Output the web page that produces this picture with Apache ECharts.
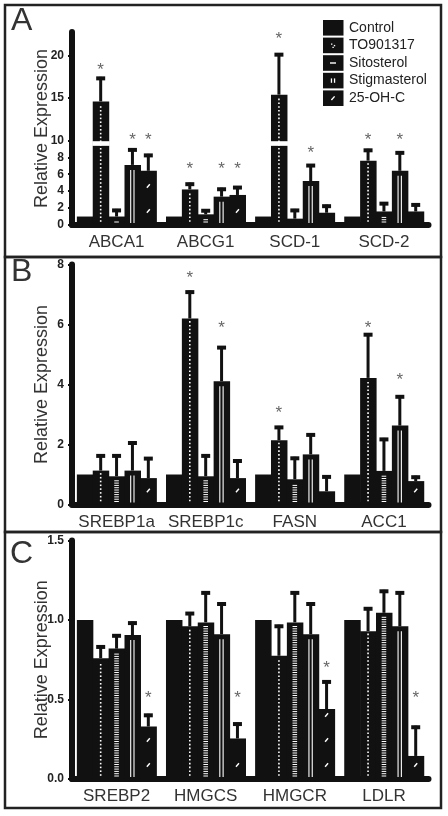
<!DOCTYPE html>
<html>
<head>
<meta charset="utf-8">
<script src="https://cdn.jsdelivr.net/npm/echarts@6/dist/echarts.min.js"></script>
<style>
html,body{margin:0;padding:0;background:#fff;}
#c{width:448px;height:816px;}
</style>
</head>
<body>
<div id="c"></div>
<script>
// ---------- DATA ----------
const treatments = ['Control', 'TO901317', 'Sitosterol', 'Stigmasterol', '25-OH-C'];

// Panel A
const genesA = ['ABCA1', 'ABCG1', 'SCD-1', 'SCD-2'];
const aControl = [1, 1, 1, 1];
const aTO      = [14.6, 4.2, 15.4, 7.6];
const aSito    = [1.0, 1.26, 0.75, 1.6];
const aStig    = [7.1, 3.35, 5.2, 6.4];
const aOHC     = [6.4, 3.55, 1.45, 1.6];
const aTOerr   = [2.9, 0.8, 4.9, 1.4];
const aSitoErr = [0.9, 0.6, 1.15, 1.1];
const aStigErr = [1.95, 1.05, 2.0, 2.3];
const aOHCerr  = [2.0, 1.05, 0.95, 0.95];
const aTOsig   = [18.7, 7.1, 22.4, 10.5];
const aStigSig = [10.5, 7.1, 9.0, 10.5];
const aOHCsig  = [10.5, 7.1, null, null];
const ticksA = [0, 2, 4, 6, 8, 10, 15, 20];
const breakA = [9.35, 9.9];

// Panel B
const genesB = ['SREBP1a', 'SREBP1c', 'FASN', 'ACC1'];
const bControl = [1, 1, 1, 1];
const bTO      = [1.13, 6.2, 2.14, 4.22];
const bSito    = [0.94, 0.94, 0.84, 1.12];
const bStig    = [1.13, 4.11, 1.67, 2.63];
const bOHC     = [0.88, 0.88, 0.44, 0.78];
const bTOerr   = [0.54, 0.93, 0.48, 1.49];
const bSitoErr = [0.73, 0.73, 0.75, 1.1];
const bStigErr = [0.97, 1.17, 0.7, 1.01];
const bOHCerr  = [0.7, 0.62, 0.53, 0.18];
const bTOsig   = [null, 7.68, 3.17, 6.0];
const bStigSig = [null, 6.0, null, 4.26];
const ticksB = [0, 2, 4, 6, 8];

// Panel C
const genesC = ['SREBP2', 'HMGCS', 'HMGCR', 'LDLR'];
const cControl = [1, 1, 1, 1];
const cTO      = [0.76, 0.96, 0.775, 0.93];
const cSito    = [0.82, 0.985, 0.985, 1.045];
const cStig    = [0.905, 0.91, 0.91, 0.96];
const cOHC     = [0.33, 0.255, 0.44, 0.145];
const cTOerr   = [0.08, 0.09, 0.195, 0.15];
const cSitoErr = [0.09, 0.195, 0.195, 0.145];
const cStigErr = [0.085, 0.2, 0.2, 0.22];
const cOHCerr  = [0.08, 0.1, 0.18, 0.19];
const cOHCsig  = [0.53, 0.53, 0.72, 0.53];
const ticksC = [0, 0.5, 1.0, 1.5];

// ---------- BUILD ----------
const INK = '#111111';
const FONT = '"Liberation Sans", Arial, Helvetica, sans-serif';
const GROUP = 0.891;

const panels = [
  { genes: genesA, means: [aControl, aTO, aSito, aStig, aOHC],
    errs: [null, aTOerr, aSitoErr, aStigErr, aOHCerr],
    sigs: [null, aTOsig, null, aStigSig, aOHCsig], brk: breakA,
    grid: { left: 72, width: 356.5, top: 32, height: 193 }, max: 22.8, ticks: ticksA, fmt: v => String(v) },
  { genes: genesB, means: [bControl, bTO, bSito, bStig, bOHC],
    errs: [null, bTOerr, bSitoErr, bStigErr, bOHCerr],
    sigs: [null, bTOsig, null, bStigSig, null], brk: null,
    grid: { left: 72, width: 356.5, top: 264.5, height: 240 }, max: 8, ticks: ticksB, fmt: v => String(v) },
  { genes: genesC, means: [cControl, cTO, cSito, cStig, cOHC],
    errs: [null, cTOerr, cSitoErr, cStigErr, cOHCerr],
    sigs: [null, null, null, null, cOHCsig], brk: null,
    grid: { left: 72, width: 356.5, top: 540.5, height: 238.5 }, max: 1.5, ticks: ticksC, fmt: v => v.toFixed(1) }
];

function makeRender(t, brk) {
  return function (params, api) {
    const ci = api.value(0), v = api.value(1), e = api.value(2), s = api.value(3);
    const b = api.coord([ci, 0]);
    const tp = api.coord([ci, v]);
    const band = api.size([1, 0])[0];
    const gw = band * GROUP, bw = gw / 5;
    const x0 = b[0] - gw / 2 + t * bw;
    const cx = x0 + bw / 2;
    const by = b[1], ty = tp[1];
    const ch = [];
    ch.push({ type: 'rect', shape: { x: x0, y: ty, width: bw + 0.6, height: by - ty }, style: { fill: INK } });
    const W = '#ffffff';
    if (t === 1) {
      for (let y = by - 4; y > ty + 3; y -= 3.8) {
        ch.push({ type: 'rect', shape: { x: cx - 0.8, y: y - 0.8, width: 1.6, height: 1.6 }, style: { fill: W } });
      }
    } else if (t === 2) {
      for (let y = by - 3; y > ty + 4; y -= 2.3) {
        ch.push({ type: 'rect', shape: { x: cx - 2.3, y: y - 0.5, width: 4.6, height: 1 }, style: { fill: W } });
      }
    } else if (t === 3) {
      const y1 = ty + 5, h = by - 2 - y1;
      if (h > 0) {
        ch.push({ type: 'rect', shape: { x: cx - 2.3, y: y1, width: 1.1, height: h }, style: { fill: W } });
        ch.push({ type: 'rect', shape: { x: cx + 1.0, y: y1, width: 1.1, height: h }, style: { fill: W } });
      }
    } else if (t === 4) {
      for (let y = by - 14; y > ty + 5; y -= 25) {
        ch.push({ type: 'line', shape: { x1: cx - 1.5, y1: y + 1.8, x2: cx + 1.5, y2: y - 1.8 }, style: { stroke: W, lineWidth: 1.4 } });
      }
    }
    if (brk && v > brk[0]) {
      const g1 = api.coord([ci, brk[1]])[1], g0 = api.coord([ci, brk[0]])[1];
      ch.push({ type: 'rect', shape: { x: x0 - 0.5, y: g1, width: bw + 1.6, height: g0 - g1 }, style: { fill: W } });
    }
    if (e > 0) {
      const pe = api.coord([ci, v + e])[1];
      ch.push({ type: 'rect', shape: { x: cx - 1.5, y: pe, width: 3, height: ty - pe }, style: { fill: INK } });
      ch.push({ type: 'rect', shape: { x: cx - 4.5, y: pe - 0.5, width: 9, height: 4 }, style: { fill: INK } });
    }
    if (s > 0) {
      const ps = api.coord([ci, s])[1];
      ch.push({ type: 'text', style: { text: '*', x: cx, y: ps + 4, fill: '#666', fontSize: 17, fontFamily: FONT, align: 'center', verticalAlign: 'middle' } });
    }
    return { type: 'group', children: ch };
  };
}

const grids = [], xAxes = [], yAxes = [], series = [];
panels.forEach((P, pi) => {
  grids.push(Object.assign({ containLabel: false }, P.grid));
  xAxes.push({
    type: 'category', gridIndex: pi, data: P.genes,
    axisLine: { show: true, lineStyle: { color: INK, width: 6 } },
    axisTick: { show: false },
    axisLabel: { interval: 0, margin: 9, fontSize: 17, color: '#333', fontFamily: FONT },
    splitLine: { show: false }
  });
  yAxes.push({
    type: 'value', gridIndex: pi, min: 0, max: P.max,
    axisLine: { show: true, lineStyle: { color: INK, width: 6 } },
    axisTick: { show: true, customValues: P.ticks, length: 4, lineStyle: { color: INK, width: 2 } },
    axisLabel: { customValues: P.ticks, margin: 8, fontSize: 12, fontWeight: 'bold', color: '#222', fontFamily: FONT, formatter: P.fmt },
    splitLine: { show: false },
    name: 'Relative Expression', nameLocation: 'middle', nameGap: 21, nameMoveOverlap: false,
    nameTextStyle: { fontSize: 18, color: '#333', fontFamily: FONT }
  });
  treatments.forEach((name, t) => {
    const m = P.means[t], er = P.errs[t], sg = P.sigs[t];
    const data = P.genes.map((g, i) => [i, m[i], er ? er[i] : 0, (sg && sg[i] != null) ? sg[i] : -1]);
    series.push({
      type: 'custom', name: name, coordinateSystem: 'cartesian2d',
      xAxisIndex: pi, yAxisIndex: pi, encode: { x: 0, y: 1 },
      data: data, renderItem: makeRender(t, P.brk), clip: false, z: 3
    });
  });
});

// legend (panel A)
const legendEls = [];
treatments.forEach((name, i) => {
  const y = 20 + i * 17.6, h = 15.6, cx = 333, cy = y + h / 2;
  legendEls.push({ type: 'rect', shape: { x: 323, y: y, width: 20.5, height: h }, style: { fill: INK } });
  if (i === 1) {
    legendEls.push({ type: 'rect', shape: { x: cx - 2, y: cy - 2, width: 1.4, height: 1.4 }, style: { fill: '#fff' } });
    legendEls.push({ type: 'rect', shape: { x: cx + 0.8, y: cy - 0.5, width: 1.4, height: 1.4 }, style: { fill: '#fff' } });
    legendEls.push({ type: 'rect', shape: { x: cx - 0.6, y: cy + 1.3, width: 1.4, height: 1.4 }, style: { fill: '#fff' } });
  } else if (i === 2) {
    legendEls.push({ type: 'rect', shape: { x: cx - 3, y: cy - 0.7, width: 6, height: 1.4 }, style: { fill: '#fff' } });
  } else if (i === 3) {
    legendEls.push({ type: 'rect', shape: { x: cx - 2.2, y: cy - 2.2, width: 1.3, height: 4.4 }, style: { fill: '#fff' } });
    legendEls.push({ type: 'rect', shape: { x: cx + 0.9, y: cy - 2.2, width: 1.3, height: 4.4 }, style: { fill: '#fff' } });
  } else if (i === 4) {
    legendEls.push({ type: 'line', shape: { x1: cx - 1.6, y1: cy + 1.8, x2: cx + 1.6, y2: cy - 1.8 }, style: { stroke: '#fff', lineWidth: 1.4 } });
  }
  legendEls.push({ type: 'text', style: { text: name, x: 349, y: cy, fill: '#222', fontSize: 14, fontFamily: FONT, align: 'left', verticalAlign: 'middle' } });
});

const frameEls = [
  { type: 'rect', shape: { x: 5, y: 5, width: 436, height: 252 }, style: { fill: 'none', stroke: '#222', lineWidth: 2.5 } },
  { type: 'rect', shape: { x: 5, y: 257, width: 436, height: 275 }, style: { fill: 'none', stroke: '#222', lineWidth: 2.5 } },
  { type: 'rect', shape: { x: 5, y: 532, width: 436, height: 276 }, style: { fill: 'none', stroke: '#222', lineWidth: 2.5 } },
  { type: 'text', style: { text: 'A', x: 11, y: 21.5, fill: '#333', fontSize: 32, fontFamily: FONT, align: 'left', verticalAlign: 'middle' } },
  { type: 'text', style: { text: 'B', x: 11, y: 271.7, fill: '#333', fontSize: 32, fontFamily: FONT, align: 'left', verticalAlign: 'middle' } },
  { type: 'text', style: { text: 'C', x: 10, y: 554, fill: '#333', fontSize: 32, fontFamily: FONT, align: 'left', verticalAlign: 'middle' } }
];

const chart = echarts.init(document.getElementById('c'), null, { renderer: 'canvas' });
chart.setOption({
  animation: false,
  backgroundColor: '#fff',
  grid: grids, xAxis: xAxes, yAxis: yAxes, series: series,
  graphic: { elements: frameEls.concat(legendEls) }
});
</script>
</body>
</html>
